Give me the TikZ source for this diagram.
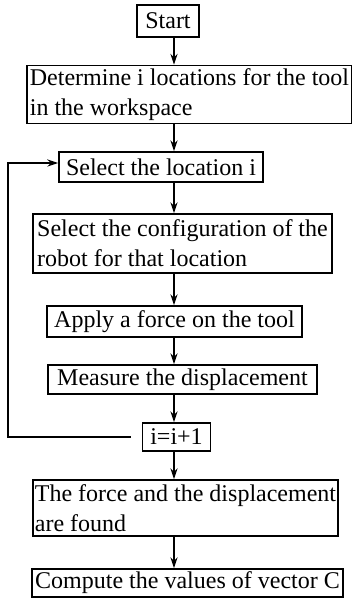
\documentclass[tikz,border=0pt]{standalone}
\usepackage{fontspec}
\setmainfont{Liberation Serif}
\usetikzlibrary{arrows.meta}
\tikzstyle{stepbox} = [rectangle, draw=black, line width=0.8pt, inner xsep=1pt, inner ysep=1.5pt, align=left]
\tikzstyle{arrow} = [line width=0.6pt,->,>={Stealth[length=5.5pt,width=3.6pt]}]

\begin{document}
\begin{tikzpicture}[node distance=35pt, font=\fontsize{12}{15}\selectfont]
\useasboundingbox (-84pt,10.5pt) rectangle (92pt,-290.5pt);
\node (start)[stepbox, minimum width=31pt, minimum height=16pt]{Start};
\coordinate (spine) at (3pt,0);
\coordinate (loop) at (-80pt,0);

\node (det)[stepbox, below of=start, xshift=10.75pt, yshift=-1.75pt, minimum width=162.5pt, minimum height=28.5pt]{Determine i locations for the tool\\in the workspace};
\draw [arrow](start.south -| spine) -- (det.north -| spine);

\node (sel)[stepbox, below of=det, xshift=-14.25pt, yshift=-1.25pt, minimum width=102pt, minimum height=15pt]{Select the location i};
\draw [arrow](det.south -| spine) -- (sel.north -| spine);

\node (cfg)[stepbox, below of=sel, xshift=10.75pt, yshift=-3.25pt, minimum width=149.5pt, minimum height=29.5pt]{Select the configuration of the\\robot for that location};
\draw [arrow](sel.south -| spine) -- (cfg.north -| spine);

\node (apply)[stepbox, below of=cfg, xshift=-4pt, yshift=-4pt, minimum width=127.5pt, minimum height=15.5pt]{Apply a force on the tool};
\draw [arrow](cfg.south -| spine) -- (apply.north -| spine);

\node (meas)[stepbox, below of=apply, xshift=4pt, yshift=6pt, minimum width=134.5pt, minimum height=14.5pt]{Measure the displacement};
\draw [arrow](apply.south -| spine) -- (meas.north -| spine);

\node (inc)[stepbox, below of=meas, xshift=-3pt, yshift=6.25pt, minimum width=34pt, minimum height=14pt]{i=i+1};
\draw [arrow](meas.south -| spine) -- (inc.north -| spine);
\draw [arrow, shorten <=5.5pt](inc.west) -- (inc.west -| loop) |- ([yshift=2pt]sel.west);

\node (found)[stepbox, below of=inc, xshift=4.5pt, yshift=-0.5pt, minimum width=151.5pt, minimum height=28pt]{The force and the displacement\\are found};
\draw [arrow](inc.south -| spine) -- (found.north -| spine);

\node (comp)[stepbox, below of=found, xshift=1pt, yshift=-2.5pt, minimum width=155.5pt, minimum height=14pt]{Compute the values of vector C};
\draw [arrow](found.south -| spine) -- (comp.north -| spine);
\end{tikzpicture}
\end{document}
